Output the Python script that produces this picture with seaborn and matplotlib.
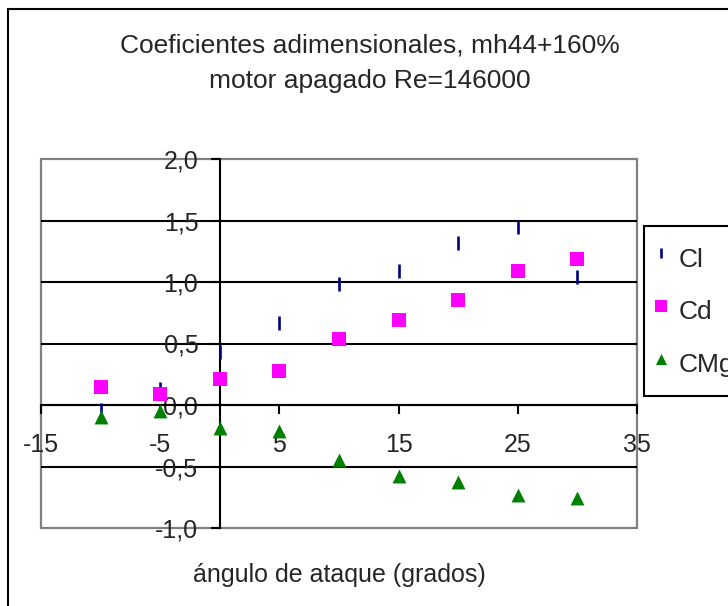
import matplotlib
matplotlib.use("Agg")
import matplotlib.pyplot as plt
from matplotlib.patches import Rectangle
import seaborn as sns
import pandas as pd

# Wind-tunnel coefficients versus angle of attack
angulo = [-10, -5, 0, 5, 10, 15, 20, 25, 30]
cl = [-0.04, 0.13, 0.43, 0.67, 0.98, 1.09, 1.32, 1.45, 1.04]
cd = [0.15, 0.09, 0.21, 0.28, 0.54, 0.69, 0.85, 1.09, 1.19]
cmg = [-0.10, -0.05, -0.19, -0.21, -0.45, -0.58, -0.63, -0.73, -0.76]

x_ticks = [-15, -5, 5, 15, 25, 35]
x_labels = ["-15", "-5", "5", "15", "25", "35"]
y_ticks = [-1.0, -0.5, 0.0, 0.5, 1.0, 1.5, 2.0]
y_labels = ["-1,0", "-0,5", "0,0", "0,5", "1,0", "1,5", "2,0"]

titulo_1 = "Coeficientes adimensionales, mh44+160%"
titulo_2 = "motor apagado Re=146000"
eje_x = "ángulo de ataque (grados)"

df = pd.DataFrame({"angulo": angulo, "Cl": cl, "Cd": cd, "CMg": cmg})

sns.set_style("white")
plt.rcParams["font.family"] = ["Liberation Sans", "DejaVu Sans"]
plt.rcParams["axes.unicode_minus"] = False

W, H = 728, 606
fig = plt.figure(figsize=(W / 100, H / 100), dpi=100)
ax = fig.add_axes([41 / W, 1 - 528 / H, (637 - 41) / W, (528 - 159) / H])

sns.scatterplot(data=df, x="angulo", y="Cl", ax=ax, marker="|", color="#000080",
                s=88, linewidth=1.9, label="Cl", zorder=3)
sns.scatterplot(data=df, x="angulo", y="Cd", ax=ax, marker="s", color="#ff00ff",
                s=100, linewidth=0, label="Cd", zorder=3)
sns.scatterplot(data=df, x="angulo", y="CMg", ax=ax, marker="^", color="#008000",
                s=100, linewidth=0, label="CMg", zorder=3)

ax.set_xlim(-15, 35)
ax.set_ylim(-1.0, 2.0)

# axes crossing at the origin
for side in ("left", "bottom"):
    ax.spines[side].set_position(("data", 0))
    ax.spines[side].set_color("black")
    ax.spines[side].set_linewidth(1.5)
for side in ("top", "right"):
    ax.spines[side].set_visible(False)
ax.add_patch(Rectangle((0, 0), 1, 1, transform=ax.transAxes, fill=False,
                       edgecolor="#808080", linewidth=1.6, zorder=0.5, clip_on=False))

ax.set_xticks(x_ticks)
ax.set_xticklabels(x_labels)
ax.set_yticks(y_ticks)
ax.set_yticklabels(y_labels)
ax.tick_params(axis="x", direction="out", length=6.5, width=1.5, color="black",
               pad=14, labelsize=18, bottom=True)
ax.tick_params(axis="y", direction="out", length=6.5, width=1.5, color="black",
               pad=9, labelsize=18, left=True)

ax.grid(axis="y", color="black", linewidth=1.5)
ax.grid(axis="x", visible=False)
gl = ax.get_ygridlines()
gl[0].set_visible(False)
gl[-1].set_visible(False)
ax.set_axisbelow(True)

ax.set_xlabel(eje_x, fontsize=18, va="center")
ax.set_ylabel("")
ax.xaxis.set_label_coords(0.5, (528 - 575) / (528 - 159))

fig.text(370 / W, 1 - 45 / H, titulo_1, ha="center", va="center", fontsize=19)
fig.text(370 / W, 1 - 81 / H, titulo_2, ha="center", va="center", fontsize=19)

# outer chart frame
fig.patches.append(Rectangle((8 / W, -0.1), 1.2, 1.1 - 9 / H, transform=fig.transFigure,
                             fill=False, edgecolor="black", linewidth=1.5, zorder=0))

leg = ax.legend(loc="upper left", bbox_to_anchor=(644 / W, 1 - 226 / H),
                bbox_transform=fig.transFigure, frameon=True, fancybox=False,
                edgecolor="black", framealpha=1, fontsize=19, markerscale=0.8,
                borderpad=0.55, labelspacing=0.69, handlelength=0.2,
                handleheight=1.65, handletextpad=0.55, borderaxespad=0)
leg.get_frame().set_linewidth(1.5)

fig.savefig("out.png", dpi=100)
